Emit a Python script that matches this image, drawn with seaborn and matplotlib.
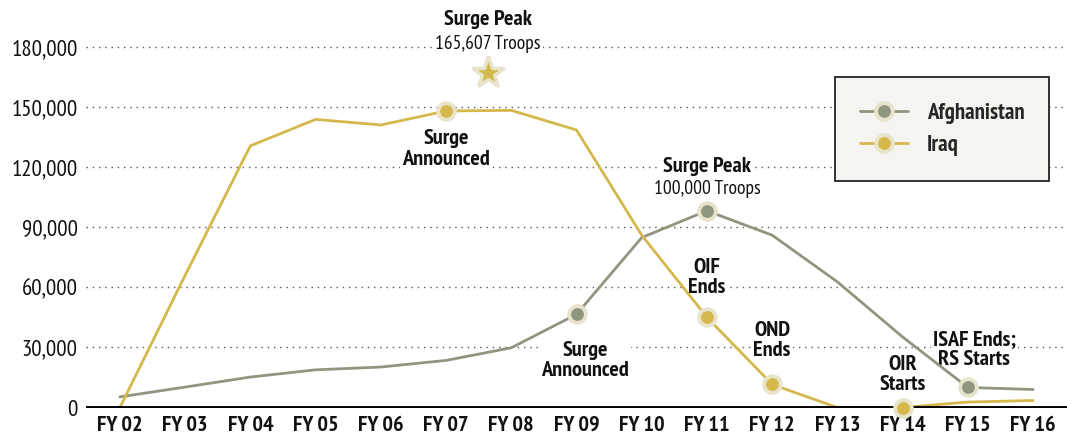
import matplotlib
matplotlib.use('Agg')
import matplotlib.pyplot as plt
from matplotlib import font_manager
from matplotlib.lines import Line2D
import seaborn as sns
import numpy as np
import pandas as pd

# data
years = ['FY 02', 'FY 03', 'FY 04', 'FY 05', 'FY 06', 'FY 07', 'FY 08', 'FY 09',
         'FY 10', 'FY 11', 'FY 12', 'FY 13', 'FY 14', 'FY 15', 'FY 16']
afghanistan = [5300, 10200, 15200, 18800, 20200, 23500, 29800, 46500,
               84800, 98200, 86000, 62700, 35200, 10000, 9000]
iraq = [0, 66000, 130600, 143800, 141000, 148000, 148300, 138500,
        86000, 45000, 11500, 0, 0, 2700, 3500]
afghan_marked = ['FY 09', 'FY 11', 'FY 15']
iraq_marked = ['FY 07', 'FY 11', 'FY 12', 'FY 14']
iraq_peak = 165607
y_ticks = [0, 30000, 60000, 90000, 120000, 150000, 180000]

GOLD = '#D4B84B'
SAGE = '#8E9680'
HALO = '#E8E3CB'

# pick a narrow family that actually ships a bold face
candidates = ['Archivo Narrow', 'PT Sans Narrow', 'Roboto Condensed', 'Fira Sans Condensed',
              'IBM Plex Sans Condensed', 'Barlow Semi Condensed', 'Saira SemiCondensed']
have_bold = {f.name for f in font_manager.fontManager.ttflist
             if isinstance(f.weight, int) and f.weight >= 700}
narrow = next((c for c in candidates if c in have_bold), 'DejaVu Sans')
FONTS = [narrow, 'DejaVu Sans']

sns.set_theme(style='white')
plt.rcParams['font.family'] = FONTS

df = pd.DataFrame({
    'x': list(range(len(years))) * 2,
    'troops': afghanistan + iraq,
    'country': ['Afghanistan'] * len(years) + ['Iraq'] * len(years),
})

fig = plt.figure(figsize=(10.67, 4.41), dpi=100)
ax = fig.add_axes([86 / 1067, 33.5 / 441, 981 / 1067, 387.5 / 441])

for y in y_ticks[1:]:
    ax.axhline(y, color='#555555', lw=1, ls=(0, (1, 3.5)), zorder=0)

sns.lineplot(data=df, x='x', y='troops', hue='country',
             palette={'Afghanistan': SAGE, 'Iraq': GOLD},
             linewidth=2, legend=False, ax=ax, zorder=2)

ax.axhline(0, color='black', lw=2.8, zorder=3)

mk = dict(marker='o', markersize=12, markeredgewidth=2.8, markeredgecolor=HALO, ls='none', zorder=5)
ai = [years.index(y) for y in afghan_marked]
ii = [years.index(y) for y in iraq_marked]
ax.plot(ai, [afghanistan[i] for i in ai], markerfacecolor=SAGE, clip_on=False, **mk)
ax.plot(ii, [iraq[i] for i in ii], markerfacecolor=GOLD, clip_on=False, **mk)
ax.plot([5.64], [iraq_peak + 1500], marker='*', markersize=24, markerfacecolor=GOLD,
        markeredgecolor=HALO, markeredgewidth=2.5, ls='none', zorder=5)

ax.set_xlim(-0.52, 14.52)
ax.set_ylim(0, 193400)
ax.set_xticks(range(len(years)))
ax.set_xticklabels(years, fontsize=16, fontweight='bold', color='#111111')
ax.set_yticks(y_ticks)
ax.set_yticklabels([f'{v:,}' for v in y_ticks], fontsize=16.5, color='#111111')
ax.tick_params(axis='both', length=0)
ax.tick_params(axis='y', pad=6)
ax.tick_params(axis='x', pad=6)
ax.set_xlabel('')
ax.set_ylabel('')
for s in ax.spines.values():
    s.set_visible(False)

box = dict(facecolor='white', edgecolor='none', pad=1.5)
bold = dict(fontsize=16, fontweight='bold', ha='center', va='center', color='#111111',
            bbox=box, zorder=1, linespacing=1.1)
small = dict(fontsize=14, ha='center', va='center', color='#111111', bbox=box, zorder=1)

ax.text(5.64, 193500, 'Surge Peak', clip_on=False, **bold)
ax.text(5.64, 181500, '165,607 Troops', clip_on=False, **small)
ax.text(5.0, 129000, 'Surge\nAnnounced', **bold)
ax.text(7.13, 23500, 'Surge\nAnnounced', **bold)
ax.text(9.0, 120500, 'Surge Peak', **bold)
ax.text(9.0, 109000, '100,000 Troops', **small)
ax.text(9.0, 65000, 'OIF\nEnds', **bold)
ax.text(10.0, 33500, 'OND\nEnds', **bold)
ax.text(12.0, 16500, 'OIR\nStarts', **bold)
ax.text(13.1, 29000, 'ISAF Ends;\nRS Starts', **bold)

handles = [
    Line2D([], [], color=SAGE, lw=2, marker='o', markersize=12, markerfacecolor=SAGE,
           markeredgecolor=HALO, markeredgewidth=2.8),
    Line2D([], [], color=GOLD, lw=2, marker='o', markersize=12, markerfacecolor=GOLD,
           markeredgecolor=HALO, markeredgewidth=2.8),
]
leg = ax.legend(handles, ['Afghanistan', 'Iraq'], loc='upper left',
                bbox_to_anchor=(0.7635, 0.852), borderaxespad=0, frameon=True, fancybox=False,
                borderpad=1.1, labelspacing=0.5, handlelength=2.1, handletextpad=0.8,
                prop={'family': FONTS, 'weight': 'bold', 'size': 16.5})
leg.get_frame().set_facecolor('#F5F4F1')
leg.get_frame().set_edgecolor('#222222')
leg.get_frame().set_linewidth(1.3)
leg.get_frame().set_alpha(1)
leg.set_zorder(6)

fig.savefig('out.png', dpi=100)
